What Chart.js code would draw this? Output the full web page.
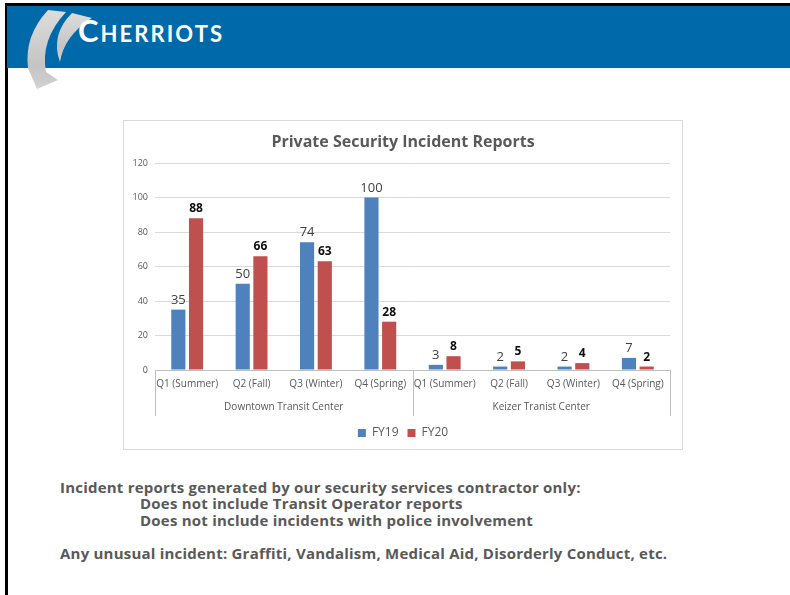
<!DOCTYPE html>
<html>
<head>
<meta charset="utf-8">
<script src="https://cdn.jsdelivr.net/npm/chart.js@4.4.1/dist/chart.umd.min.js"></script>
<style>
  html, body { margin: 0; padding: 0; background: #fff; }
  body { width: 790px; height: 595px; position: relative; overflow: hidden; font-family: "Open Sans", sans-serif; }
  .abs { position: absolute; }
  #chartBox { position: absolute; left: 123px; top: 120px; width: 560px; height: 330px; box-sizing: border-box; border: 1px solid #d9d9d9; }
  .note { position: absolute; left: 60px; color: #595959; font-weight: 700; font-size: 15px; letter-spacing: 0.22px; line-height: 16.7px; white-space: nowrap; }
</style>
</head>
<body>
<div class="abs" style="left:5px;top:3px;width:785px;height:3px;background:#000"></div>
<div class="abs" style="left:5px;top:3px;width:2.5px;height:592px;background:#000"></div>
<div class="abs" style="left:7px;top:6px;width:783px;height:62px;background:#0069AA"></div>
<svg class="abs" style="left:0;top:0" width="240" height="100" viewBox="0 0 240 100">
  <defs>
    <linearGradient id="sw" x1="0" y1="0" x2="0" y2="1">
      <stop offset="0" stop-color="#dcdcdc"/>
      <stop offset="0.7" stop-color="#c4c4c4"/>
      <stop offset="1" stop-color="#d2d2d2"/>
    </linearGradient>
  </defs>
  <path d="M48 10 Q24 36 28 68 L37 89 L58 80 L46 72 Q40 40 66 12 Z" fill="url(#sw)"/>
  <path d="M72 13 Q50 35 60 62 Q64 36 92 18 Z" fill="url(#sw)"/>
  <text x="78" y="42" fill="#fff" font-family="Lato, 'Open Sans', sans-serif" font-weight="700" font-size="31" textLength="144" lengthAdjust="spacing">C<tspan font-size="22">HERRIOTS</tspan></text>
</svg>
<div id="chartBox"><canvas id="c"></canvas></div>
<div class="note" style="top:478.5px">Incident reports generated by our security services contractor only:</div>
<div class="note" style="top:495.2px;left:140px">Does not include Transit Operator reports</div>
<div class="note" style="top:511.9px;left:140px">Does not include incidents with police involvement</div>
<div class="note" style="top:545.3px">Any unusual incident: Graffiti, Vandalism, Medical Aid, Disorderly Conduct, etc.</div>
<script>
const chartTitle = 'Private Security Incident Reports';
const quarters = ['Q1 (Summer)', 'Q2 (Fall)', 'Q3 (Winter)', 'Q4 (Spring)', 'Q1 (Summer)', 'Q2 (Fall)', 'Q3 (Winter)', 'Q4 (Spring)'];
const groups = ['Downtown Transit Center', 'Keizer Tranist Center'];
const fy19 = [35, 50, 74, 100, 3, 2, 2, 7];
const fy20 = [88, 66, 63, 28, 8, 5, 4, 2];
const seriesNames = ['FY19', 'FY20'];
const yTicks = [0, 20, 40, 60, 80, 100, 120];

const FONT = "'Open Sans', sans-serif";

const valueLabels = {
  id: 'valueLabels',
  afterDatasetsDraw(chart) {
    const ctx = chart.ctx;
    ctx.save();
    ctx.textAlign = 'center';
    ctx.textBaseline = 'alphabetic';
    chart.data.datasets.forEach((ds, i) => {
      const meta = chart.getDatasetMeta(i);
      ctx.font = i === 0 ? `400 13px ${FONT}` : `700 12px ${FONT}`;
      ctx.fillStyle = i === 0 ? '#404040' : '#0d0d0d';
      meta.data.forEach((el, j) => {
        ctx.fillText(String(ds.data[j]), el.x, el.y - 6);
      });
    });
    ctx.restore();
  }
};

const groupDividers = {
  id: 'groupDividers',
  afterDraw(chart) {
    const x = chart.scales.x, x2 = chart.scales.x2;
    const ctx = chart.ctx;
    const mid = (x2.getPixelForValue(0) + x2.getPixelForValue(1)) / 2;
    const xs = [x2.left, mid, x2.right];
    ctx.save();
    ctx.strokeStyle = '#bfbfbf';
    ctx.lineWidth = 1;
    xs.forEach(px => {
      const p = Math.round(px) + 0.5;
      ctx.beginPath();
      ctx.moveTo(p, x.top);
      ctx.lineTo(p, x2.bottom - 2);
      ctx.stroke();
    });
    ctx.restore();
  }
};

new Chart(document.getElementById('c'), {
  type: 'bar',
  data: {
    labels: quarters,
    datasets: [
      { label: seriesNames[0], data: fy19, backgroundColor: '#4F81BD', categoryPercentage: 0.55, barPercentage: 0.8 },
      { label: seriesNames[1], data: fy20, backgroundColor: '#C0504D', categoryPercentage: 0.55, barPercentage: 0.8 }
    ]
  },
  options: {
    responsive: true,
    maintainAspectRatio: false,
    animation: false,
    layout: { padding: { left: 0, right: 0, top: 0, bottom: 0 } },
    plugins: {
      title: {
        display: true, text: chartTitle, color: '#595959',
        font: { family: FONT, size: 16, weight: '700' },
        padding: { top: 12, bottom: 10.8 }
      },
      legend: {
        position: 'bottom',
        labels: {
          color: '#595959', font: { family: FONT, size: 12 },
          boxWidth: 8, boxHeight: 8, padding: 9
        }
      },
      tooltip: { enabled: false }
    },
    scales: {
      y: {
        min: 0, max: 120,
        afterBuildTicks: (s) => { s.ticks = yTicks.map(v => ({ value: v })); },
        afterFit: (s) => { s.width = 31; },
        grid: { color: '#d9d9d9', drawTicks: false },
        border: { display: false },
        ticks: { color: '#595959', font: { family: FONT, size: 9 }, padding: 7 }
      },
      yRight: {
        type: 'linear',
        position: 'right',
        display: true,
        grid: { display: false, drawTicks: false },
        border: { display: false },
        ticks: { display: false },
        afterFit: (s) => { s.width = 12; }
      },
      x: {
        grid: { display: false, drawTicks: false },
        border: { display: true, color: '#bfbfbf' },
        afterFit: (s) => { s.height = 24; },
        ticks: { color: '#595959', font: { family: FONT, size: 10 }, padding: 8, maxRotation: 0, autoSkip: false }
      },
      x2: {
        type: 'category',
        labels: groups,
        position: 'bottom',
        offset: true,
        grid: { display: false, drawTicks: false },
        border: { display: false },
        afterFit: (s) => { s.height = 24; },
        ticks: { color: '#595959', font: { family: FONT, size: 10 }, padding: 7, maxRotation: 0, autoSkip: false }
      }
    }
  },
  plugins: [valueLabels, groupDividers]
});
</script>
</body>
</html>
